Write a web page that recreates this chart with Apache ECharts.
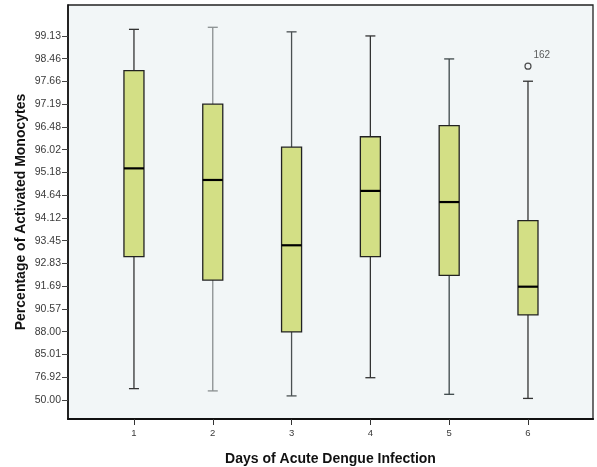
<!DOCTYPE html>
<html>
<head>
<meta charset="utf-8">
<script src="https://cdn.jsdelivr.net/npm/echarts@6/dist/echarts.min.js"></script>
<style>html,body{margin:0;padding:0;background:#fff}#c{width:597px;height:467px}</style>
</head>
<body>
<div id="c"></div>
<script>
// Y tick labels (SPSS ranked scale: labels are equally spaced positions 0..16)
const yTickLabels = ['50.00','76.92','85.01','88.00','90.57','91.69','92.83','93.45','94.12','94.64','95.18','96.02','96.48','97.19','97.66','98.46','99.13'];
const categories = ['1','2','3','4','5','6'];
// values expressed as positions on the ranked axis (tick index units)
const whiskerLow  = [0.50, 0.40, 0.18, 0.98, 0.25, 0.07];
const q1          = [6.30, 5.27, 2.99, 6.30, 5.48, 3.74];
const median      = [10.18, 9.67, 6.80, 9.19, 8.70, 4.98];
const q3          = [14.48, 13.00, 11.11, 11.57, 12.06, 7.88];
const whiskerHigh = [16.29, 16.38, 16.18, 16.00, 14.99, 14.01];
const whiskerColors = ['#333', '#8a8f90', '#4a5052', '#333', '#3d4749', '#333'];
const outliers = [[6, 14.67, '162']];

const boxData = categories.map((c, i) => [i + 1, whiskerLow[i], q1[i], median[i], q3[i], whiskerHigh[i]]);

const chart = echarts.init(document.getElementById('c'), null, {renderer: 'canvas'});
const FF = 'Liberation Sans, Arial, sans-serif';
const labelFont = {fontFamily: FF, fontSize: 10.5, color: '#3a3a3a'};

chart.setOption({
  animation: false,
  backgroundColor: '#ffffff',
  grid: {left: 68, top: 5, right: 4, bottom: 48, containLabel: false, outerBoundsMode: 'none', show: true, backgroundColor: '#F2F6F7', borderColor: '#222', borderWidth: 1.3},
  xAxis: {
    type: 'value', min: 0.163, max: 6.825,
    name: 'Days of Acute Dengue Infection', nameLocation: 'middle', nameGap: 33,
    nameTextStyle: {fontFamily: FF, fontSize: 14, fontWeight: 'bold', color: '#111'},
    axisLine: {show: true, onZero: false, lineStyle: {color: '#111', width: 2.2}},
    axisTick: {show: true, length: 6, customValues: categories.map((c, i) => i + 1), lineStyle: {color: '#333'}},
    axisLabel: Object.assign({margin: 9, customValues: categories.map((c, i) => i + 1), formatter: v => categories[Math.round(v) - 1]}, labelFont, {fontSize: 9.5}),
    splitLine: {show: false}
  },
  yAxis: {
    type: 'value', min: -0.835, max: 17.36,
    name: 'Percentage of Activated Monocytes', nameLocation: 'middle', nameGap: 40, nameRotate: 90, nameMoveOverlap: false,
    nameTextStyle: {fontFamily: FF, fontSize: 14, fontWeight: 'bold', color: '#111'},
    axisLine: {show: true, onZero: false, lineStyle: {color: '#111', width: 1.6}},
    axisTick: {show: true, length: 6, customValues: yTickLabels.map((l, i) => i), lineStyle: {color: '#444'}},
    axisLabel: Object.assign({margin: 7, customValues: yTickLabels.map((l, i) => i), formatter: v => yTickLabels[Math.round(v)]}, labelFont),
    splitLine: {show: false}
  },
  series: [
    {
      type: 'custom',
      data: boxData,
      encode: {x: 0, y: [1, 2, 3, 4, 5]},
      renderItem: function (params, api) {
        const x = api.value(0);
        const pLow = api.coord([x, api.value(1)]);
        const pQ1 = api.coord([x, api.value(2)]);
        const pMed = api.coord([x, api.value(3)]);
        const pQ3 = api.coord([x, api.value(4)]);
        const pHigh = api.coord([x, api.value(5)]);
        const unit = api.size([1, 0])[0];
        const bw = unit * 0.254;
        const cw = unit * 0.127;
        const cx = pQ1[0];
        const wStyle = {stroke: whiskerColors[params.dataIndex], lineWidth: 1.3};
        return {
          type: 'group',
          children: [
            {type: 'line', shape: {x1: cx, y1: pQ3[1], x2: cx, y2: pHigh[1]}, style: wStyle},
            {type: 'line', shape: {x1: cx, y1: pQ1[1], x2: cx, y2: pLow[1]}, style: wStyle},
            {type: 'line', shape: {x1: cx - cw / 2, y1: pHigh[1], x2: cx + cw / 2, y2: pHigh[1]}, style: wStyle},
            {type: 'line', shape: {x1: cx - cw / 2, y1: pLow[1], x2: cx + cw / 2, y2: pLow[1]}, style: wStyle},
            {type: 'rect', shape: {x: cx - bw / 2, y: pQ3[1], width: bw, height: pQ1[1] - pQ3[1]}, style: {fill: '#D3DF85', stroke: '#222', lineWidth: 1.3}},
            {type: 'line', shape: {x1: cx - bw / 2, y1: pMed[1], x2: cx + bw / 2, y2: pMed[1]}, style: {stroke: '#000', lineWidth: 2.2}}
          ]
        };
      }
    },
    {
      type: 'scatter',
      data: outliers.map(o => [o[0], o[1], o[2]]),
      symbol: 'circle', symbolSize: 6,
      itemStyle: {color: '#F2F6F7', borderColor: '#222', borderWidth: 1.2},
      label: {show: true, position: [9, -12], formatter: p => p.data[2], fontFamily: FF, fontSize: 10, color: '#333'}
    }
  ]
});
</script>
</body>
</html>
